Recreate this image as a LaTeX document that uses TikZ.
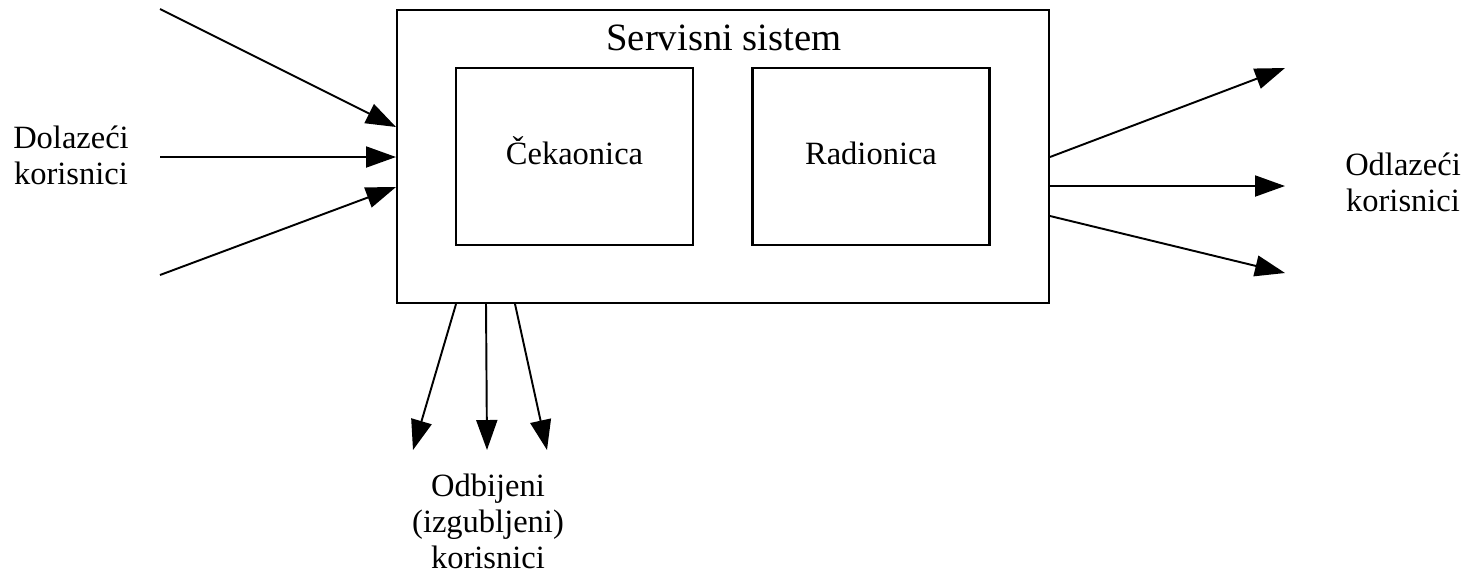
\documentclass[tikz,border=0pt]{standalone}
\usepackage{fontspec}
\setmainfont{Liberation Serif}
\usetikzlibrary{positioning,calc,arrows.meta}

\begin{document}
\begin{tikzpicture}[x=0.02cm, y=-0.02cm,
    line width=1.2pt,
    >={Triangle[length=0.6cm,width=0.42cm]},
    box/.style={draw, inner sep=0pt},
    room/.style={box, minimum width=4.74cm, minimum height=3.54cm,
        text height=0.95em, text depth=0pt,
        font=\fontsize{18.5}{21}\selectfont},
    lbl/.style={align=center, inner sep=0pt, font=\fontsize{18.5}{20.5}\selectfont},
    flow/.style={->, line width=1.1pt}]

    \useasboundingbox (0,0) rectangle (1470,576);

    % servisni sistem
    \node[box, minimum width=13.04cm, minimum height=5.86cm] (sys) at (723,156.5) {};
    \node[inner sep=0pt, font=\fontsize{22}{26}\selectfont] (title) at (724,38) {Servisni sistem};
    \node[room] (cek) at (574.5,156.5) {Čekaonica};
    \node[room] (rad) at (871,156.5) {Radionica};

    % labels
    \node[lbl] (dol) at (71,155) {Dolazeći\\korisnici};
    \node[lbl] (odl) at (1403,182) {Odlazeći\\korisnici};
    \node[lbl] (odb) at (488,521) {Odbijeni\\(izgubljeni)\\korisnici};

    % free ends
    \coordinate (in1) at (160,9);
    \coordinate (in2) at (160,157);
    \coordinate (in3) at (160,275);
    \coordinate (out1) at (1285,68);
    \coordinate (out2) at (1285,186);
    \coordinate (out3) at (1285,273);
    \coordinate (lost1) at (413,450);
    \coordinate (lost2) at (487,450);
    \coordinate (lost3) at (547,450);

    % dolazak
    \draw[flow] (in1) -- ($(sys.west)+(0,-29.5)$);
    \draw[flow] (in2) -- ($(sys.west)+(0,0.5)$);
    \draw[flow] (in3) -- ($(sys.west)+(0,30.5)$);

    % odlazak
    \draw[flow] ($(sys.east)+(0,0.5)$) -- (out1);
    \draw[flow] ($(sys.east)+(0,29.5)$) -- (out2);
    \draw[flow] ($(sys.east)+(0,59.5)$) -- (out3);

    % odbijeni
    \draw[flow] ($(sys.south west)+(60,0)$) -- (lost1);
    \draw[flow] ($(sys.south west)+(90,0)$) -- (lost2);
    \draw[flow] ($(sys.south west)+(119,0)$) -- (lost3);

\end{tikzpicture}
\end{document}
